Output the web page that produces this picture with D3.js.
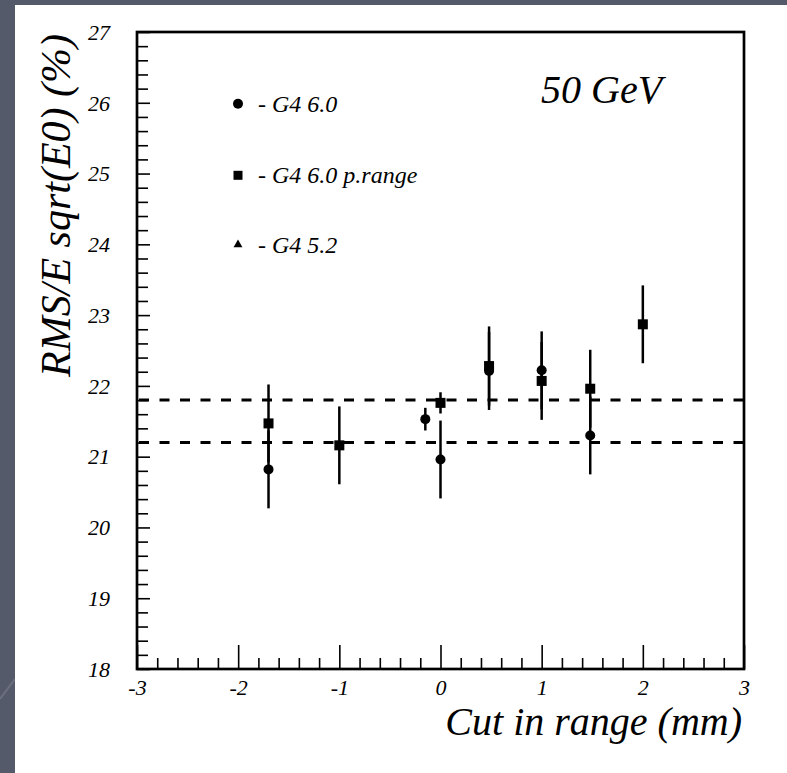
<!DOCTYPE html>
<html>
<head>
<meta charset="utf-8">
<script src="https://cdn.jsdelivr.net/npm/d3@7"></script>
<style>
  html, body { margin: 0; padding: 0; background: #555a6b; }
  svg { display: block; }
  text { font-family: "Liberation Serif", "Times New Roman", serif; font-style: italic; fill: #000; }
</style>
</head>
<body>
<svg id="chart" width="787" height="773"></svg>
<script>
// G4 6.0 (circles)
const g4v60Cut = [-1.7, -0.15, 0, 0.48, 1, 1.48];
const g4v60Res = [20.82, 21.53, 20.96, 22.21, 22.22, 21.30];
const g4v60Err = [0.55, 0.16, 0.55, 0.55, 0.55, 0.55];

// G4 6.0 p.range (squares)
const g4v60pCut = [-1.7, -1, 0, 0.48, 1, 1.48, 2];
const g4v60pRes = [21.47, 21.16, 21.76, 22.28, 22.07, 21.96, 22.87];
const g4v60pErr = [0.55, 0.55, 0.15, 0.56, 0.55, 0.55, 0.55];

// horizontal reference band
const refLevels = [21.2, 21.8];

const xTickValues = [-3, -2, -1, 0, 1, 2, 3];
const yTickValues = [18, 19, 20, 21, 22, 23, 24, 25, 26, 27];
const legendLabels = ["- G4 6.0", "- G4 6.0 p.range", "- G4 5.2"];
const legendShapes = ["circle", "square", "triangle"];
const titleText = "50 GeV";
const xTitle = "Cut in range (mm)";
const yTitle = "RMS/E sqrt(E0) (%)";

const svg = d3.select("#chart");

// slide background and white page
svg.append("rect").attr("width", 787).attr("height", 773).attr("fill", "#555a6b");
svg.append("line").attr("x1", 0).attr("y1", 699).attr("x2", 15).attr("y2", 679)
  .attr("stroke", "rgba(255,255,255,0.13)").attr("stroke-width", 2);
svg.append("rect").attr("x", 15).attr("y", 5).attr("width", 772).attr("height", 768).attr("fill", "#fff");

const x = d3.scaleLinear().domain([-3, 3]).range([137, 744]);
const y = d3.scaleLinear().domain([18, 27]).range([669, 32]);

// minor tick positions every 0.2 between the labelled ticks
const isMajor = v => Math.abs(v - Math.round(v)) < 1e-6;
const xMinor = d3.range(-3, 3.0001, 0.2).map(v => +v.toFixed(1)).filter(v => !isMajor(v));
const yMinor = d3.range(18, 27.0001, 0.2).map(v => +v.toFixed(1)).filter(v => !isMajor(v));

const fontTick = 22;
const styleText = sel => sel.attr("font-family", null).attr("font-size", fontTick).attr("fill", "#000");

// x axis: minor ticks
svg.append("g").attr("transform", `translate(0,${y(18)})`)
  .call(d3.axisBottom(x).tickValues(xMinor).tickSizeInner(-11).tickSizeOuter(0).tickFormat(""))
  .call(g => g.select(".domain").remove())
  .call(g => g.selectAll("line").attr("stroke", "#000").attr("stroke-width", 1.6));

// x axis: major ticks and labels
svg.append("g").attr("transform", `translate(0,${y(18)})`)
  .call(d3.axisBottom(x).tickValues(xTickValues).tickSizeInner(-24).tickSizeOuter(0).tickFormat(d3.format("d")))
  .call(g => g.select(".domain").remove())
  .call(g => g.selectAll("line").attr("stroke", "#000").attr("stroke-width", 1.6))
  .call(g => g.selectAll("text").attr("y", 26).attr("dy", null).call(styleText)
    .text(d => d < 0 ? "-" + Math.abs(d) : d));

// y axis: minor ticks
svg.append("g").attr("transform", `translate(${x(-3)},0)`)
  .call(d3.axisLeft(y).tickValues(yMinor).tickSizeInner(-11).tickSizeOuter(0).tickFormat(""))
  .call(g => g.select(".domain").remove())
  .call(g => g.selectAll("line").attr("stroke", "#000").attr("stroke-width", 1.6));

// y axis: major ticks and labels
svg.append("g").attr("transform", `translate(${x(-3)},0)`)
  .call(d3.axisLeft(y).tickValues(yTickValues).tickSizeInner(-13).tickSizeOuter(0).tickPadding(27).tickFormat(d3.format("d")))
  .call(g => g.select(".domain").remove())
  .call(g => g.selectAll("line").attr("stroke", "#000").attr("stroke-width", 1.6))
  .call(g => g.selectAll("text").call(styleText).attr("dy", "0.33em"));

// plot frame
svg.append("rect")
  .attr("x", x(-3)).attr("y", y(27))
  .attr("width", x(3) - x(-3)).attr("height", y(18) - y(27))
  .attr("fill", "none").attr("stroke", "#000").attr("stroke-width", 2.7);

// dashed reference lines
svg.append("g").selectAll("line").data(refLevels).join("line")
  .attr("x1", x(-3)).attr("x2", x(3))
  .attr("y1", d => y(d)).attr("y2", d => y(d))
  .attr("stroke", "#000").attr("stroke-width", 3)
  .attr("stroke-dasharray", "10,10.5").attr("stroke-dashoffset", -2);

function series(cut, res, err) {
  return cut.map((c, i) => ({ cut: c, res: res[i], err: err[i] }));
}
const circles = series(g4v60Cut, g4v60Res, g4v60Err);
const squares = series(g4v60pCut, g4v60pRes, g4v60pErr);

// error bars
const bars = svg.append("g").attr("stroke", "#000").attr("stroke-width", 2.5);
bars.selectAll(".ec").data(circles).join("line").attr("class", "ec")
  .attr("x1", d => x(d.cut)).attr("x2", d => x(d.cut))
  .attr("y1", d => y(d.res - d.err)).attr("y2", d => y(d.res + d.err));
bars.selectAll(".es").data(squares).join("line").attr("class", "es")
  .attr("x1", d => x(d.cut)).attr("x2", d => x(d.cut))
  .attr("y1", d => y(d.res - d.err)).attr("y2", d => y(d.res + d.err));

// markers
svg.append("g").selectAll("circle").data(circles).join("circle")
  .attr("cx", d => x(d.cut)).attr("cy", d => y(d.res)).attr("r", 5).attr("fill", "#000");
svg.append("g").selectAll("rect").data(squares).join("rect")
  .attr("x", d => x(d.cut) - 5).attr("y", d => y(d.res) - 5)
  .attr("width", 10).attr("height", 10).attr("fill", "#000");

// legend
const legendBase = [111.7, 183.3, 252.7];
const leg = svg.append("g");
legendLabels.forEach((label, i) => {
  const cy = legendBase[i] - 8;
  const shape = legendShapes[i];
  if (shape === "circle") {
    leg.append("circle").attr("cx", 238).attr("cy", cy).attr("r", 5).attr("fill", "#000");
  } else if (shape === "square") {
    leg.append("rect").attr("x", 238 - 4.5).attr("y", cy - 4.5).attr("width", 9).attr("height", 9).attr("fill", "#000");
  } else {
    leg.append("path").attr("d", d3.symbol(d3.symbolTriangle, 34)())
      .attr("transform", `translate(238,${cy})`).attr("fill", "#000");
  }
  leg.append("text").attr("x", 258).attr("y", legendBase[i]).attr("font-size", 24).text(label);
});

// energy label
svg.append("text").attr("x", 541).attr("y", 103).attr("font-size", 40).text(titleText);

// axis titles
svg.append("text").attr("x", 742).attr("y", 735).attr("text-anchor", "end")
  .attr("font-size", 40).text(xTitle);
svg.append("text").attr("transform", "translate(70,34) rotate(-90)")
  .attr("text-anchor", "end").attr("font-size", 42).text(yTitle);
</script>
</body>
</html>
